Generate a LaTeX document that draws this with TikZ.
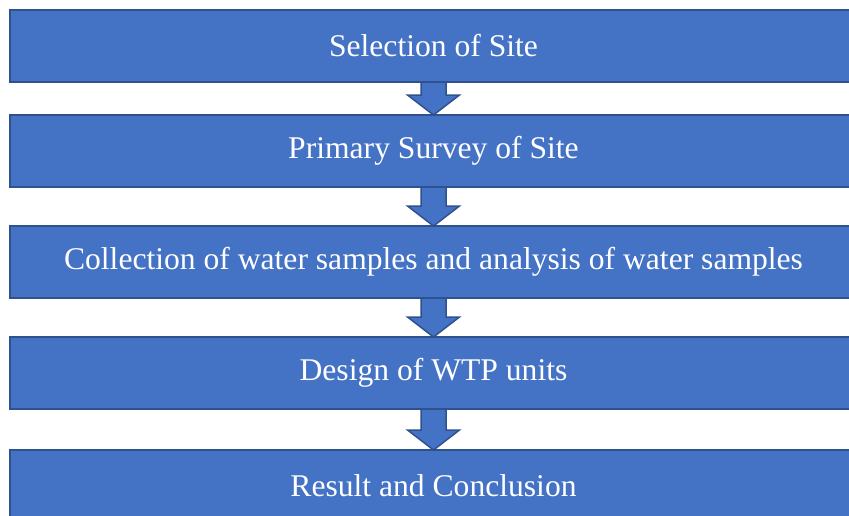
\documentclass[tikz,border=0pt]{standalone}
\usepackage{fontspec}
\setmainfont{Liberation Serif}
\usetikzlibrary{positioning, calc}
\definecolor{boxblue}{HTML}{4472C4}
\definecolor{edgeblue}{HTML}{2F528F}

% fat down arrow from the bottom of one box to the top of the next
\newcommand{\downblock}[2]{%
  \draw[blockarrow] let \p1=(#1.south), \p2=(#2.north) in
    (\x1-12.5pt,\y1) -- (\x1-12.5pt,\y2+20pt) -- (\x1-26pt,\y2+20pt)
    -- (#2.north) -- (\x1+26pt,\y2+20pt) -- (\x1+12.5pt,\y2+20pt)
    -- (\x1+12.5pt,\y1) -- cycle;}

\begin{document}
\begin{tikzpicture}[x=1pt, y=-1pt,
    stage/.style={rectangle, draw=edgeblue, fill=boxblue, line width=2.5pt,
      minimum width=847pt, minimum height=72pt, inner sep=0pt, outer sep=0pt,
      text=white, font=\fontsize{31.6}{36}\selectfont},
    blockarrow/.style={draw=edgeblue, fill=boxblue, line width=1.5pt,
      line join=miter}
]
\useasboundingbox (0,0) rectangle (849,515);
\clip (0,0) rectangle (849,515);
\node[stage] at (433.5,46)        (site)   {Selection of Site};
\node[stage, below=33pt of site]   (survey) {Primary Survey of Site};
\node[stage, below=39pt of survey] (sample) {Collection of water samples and analysis of water samples};
\node[stage, below=39pt of sample] (design) {Design of WTP units};
\node[stage, below=41pt of design] (result) {Result and Conclusion};
\downblock{site}{survey}
\downblock{survey}{sample}
\downblock{sample}{design}
\downblock{design}{result}
\end{tikzpicture}
\end{document}
